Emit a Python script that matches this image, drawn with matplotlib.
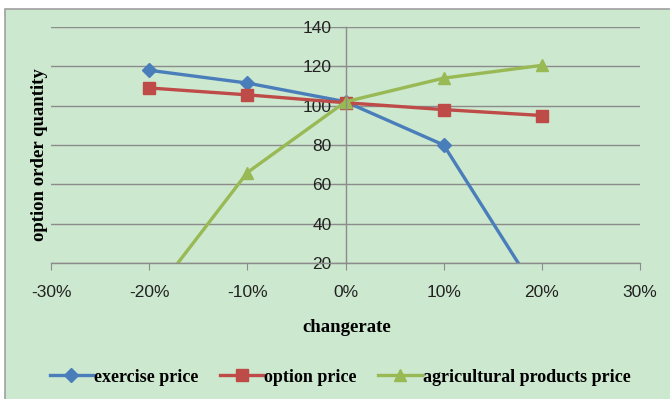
import matplotlib.pyplot as plt
from matplotlib.patches import Rectangle
from matplotlib.ticker import FuncFormatter

# change rate in percent
change_rate = [-20, -10, 0, 10, 20]

exercise_price = [118, 111.5, 102, 80, 1]
option_price = [109, 105.5, 101.5, 98, 95]
agri_price = [1, 66, 102, 114, 120.5]

x_ticks = [-30, -20, -10, 0, 10, 20, 30]
y_ticks = [20, 40, 60, 80, 100, 120, 140]

bg = '#CCE8CF'
grid_col = '#8C8C8C'

fig = plt.figure(figsize=(6.7, 3.99), dpi=100, facecolor='white')

# chart area frame, kept behind the axes
frame = Rectangle((5 / 670, -0.01), 1.0, 1 - 9 / 399 + 0.01, transform=fig.transFigure,
                  facecolor=bg, edgecolor='#A0A0A0', linewidth=1.2, zorder=-10)
fig.patches.append(frame)

ax = fig.add_axes([51 / 670, 1 - 263 / 399, 589 / 670, 236 / 399])
ax.set_zorder(1)
ax.patch.set_alpha(0)

ax.plot(change_rate, exercise_price, color='#4A7EBB', lw=2.4, marker='D', ms=7,
        label='exercise price')
ax.plot(change_rate, option_price, color='#BE4B48', lw=2.4, marker='s', ms=9,
        label='option price')
ax.plot(change_rate, agri_price, color='#98B954', lw=2.4, marker='^', ms=9,
        label='agricultural products price')

ax.set_xlim(-30, 30)
ax.set_ylim(20, 140)
ax.set_xticks(x_ticks)
ax.set_yticks(y_ticks)
ax.xaxis.set_major_formatter(FuncFormatter(lambda v, p: '%d%%' % v))

# y axis sits at zero change
ax.spines['left'].set_position(('data', 0))
ax.spines['right'].set_visible(False)
ax.spines['top'].set_visible(False)
for s in ('left', 'bottom'):
    ax.spines[s].set_color(grid_col)
    ax.spines[s].set_linewidth(1)

ax.yaxis.grid(True, color=grid_col, linewidth=1)
ax.set_axisbelow(True)

ax.tick_params(axis='y', length=5, color=grid_col, pad=5, labelsize=12.5)
ax.tick_params(axis='x', length=5, color=grid_col, pad=11, labelsize=12.5)
for lbl in ax.get_xticklabels() + ax.get_yticklabels():
    lbl.set_family('Liberation Sans')
    lbl.set_color('#222222')

serif_bold = dict(family='Liberation Serif', weight='bold', size=13.5)
fig.text(347 / 670, 1 - 327 / 399, 'changerate', ha='center', va='center', **serif_bold)
fig.text(40 / 670, 1 - 155 / 399, 'option order quantity', rotation=90,
         ha='center', va='center', **serif_bold)

leg = fig.legend(loc='center', bbox_to_anchor=(340 / 670, 1 - 377 / 399), ncol=3,
                 frameon=False, handlelength=2.4, handletextpad=0.05, columnspacing=1.2,
                 prop=dict(family='Liberation Serif', weight='bold', size=13))

fig.savefig('out.png', dpi=100, facecolor=fig.get_facecolor())
